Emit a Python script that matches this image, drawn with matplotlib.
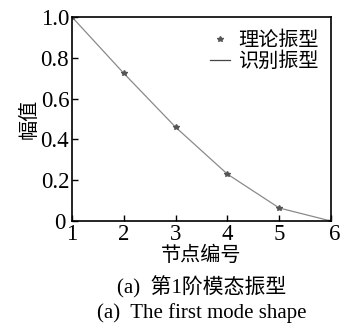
import numpy as np
import matplotlib.pyplot as plt
import matplotlib.transforms as mtransforms
from matplotlib.lines import Line2D

# node numbers and mode shape amplitudes
nodes = [1, 2, 3, 4, 5, 6]
theory = [1.0, 0.724, 0.46, 0.23, 0.064, 0.0]
identified = [1.0, 0.724, 0.46, 0.23, 0.064, 0.0]

xticks = [1, 2, 3, 4, 5, 6]
yticks = [0, 0.2, 0.4, 0.6, 0.8, 1.0]
ytick_labels = ['0', '0.2', '0.4', '0.6', '0.8', '1.0']

serif = ['Liberation Serif', 'Noto Sans CJK SC']
cjk = ['Noto Sans CJK SC', 'Liberation Serif']

fig = plt.figure(figsize=(3.42, 3.27), dpi=100)
ax = fig.add_axes([0.2105, 0.324, 0.7575, 0.624])

ax.plot(nodes, identified, color='#8a8a8a', linewidth=0.9)
ax.plot(nodes, theory, linestyle='none', marker='*', markersize=4,
        color='#555555')

ax.set_xlim(1, 6)
ax.set_ylim(0, 1.0)
ax.set_xticks(xticks)
ax.set_yticks(yticks)
ax.set_yticklabels(ytick_labels)
ax.tick_params(direction='in', length=4, width=1, pad=2)
for lab in ax.get_xticklabels() + ax.get_yticklabels():
    lab.set_family(serif)
    lab.set_fontsize(16.5)


def nudge(lab, dx, dy):
    lab.set_transform(lab.get_transform() +
                      mtransforms.ScaledTranslation(dx / 100, dy / 100, fig.dpi_scale_trans))


# small offsets seen in the original
nudge(ax.get_xticklabels()[-1], 4, 0)
nudge(ax.get_yticklabels()[0], -4, 0)
for s in ax.spines.values():
    s.set_linewidth(1.2)

ax.set_xlabel('节点编号', family=cjk, fontsize=14.5, labelpad=0)
ax.set_ylabel('幅值', family=cjk, fontsize=14.5, labelpad=1)

handles = [Line2D([], [], linestyle='none', marker='*', markersize=4, color='#555555'),
           Line2D([], [], color='#444444', linewidth=0.9)]
leg = ax.legend(handles, ['理论振型', '识别振型'], loc='upper right', frameon=False,
                prop={'family': cjk, 'size': 14.5}, handlelength=1.0,
                handletextpad=0.4, labelspacing=0.0, borderaxespad=0.2,
                bbox_to_anchor=(1.0, 0.995))

cx = 0.2105 + 0.7575 / 2
fig.text(cx, 0.122, '(a)  第1阶模态振型', family=serif, fontsize=15,
         ha='center', va='center')
fig.text(cx, 0.043, '(a)  The first mode shape', family=serif, fontsize=15,
         ha='center', va='center')

fig.savefig('out.png', dpi=100)
